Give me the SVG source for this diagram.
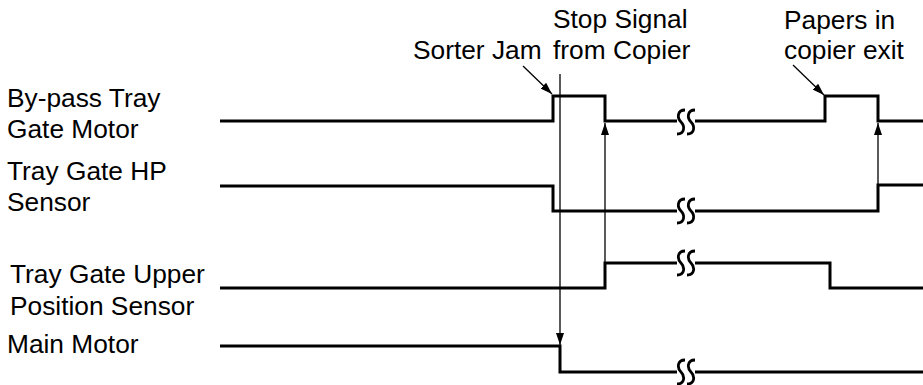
<svg xmlns="http://www.w3.org/2000/svg" width="923" height="385" viewBox="0 0 923 385">
<defs>
<style>
text{font-family:"Liberation Sans",Arial,sans-serif;font-size:26.3px;fill:#000}
.sig{fill:none;stroke:#000;stroke-width:3;stroke-linejoin:miter;stroke-linecap:butt}
.brk{fill:none;stroke:#000;stroke-width:2.8}
.thin{fill:none;stroke:#000;stroke-width:1.3}
</style>
<marker id="ah" viewBox="0 0 12 8" refX="12" refY="4" markerWidth="12" markerHeight="8" markerUnits="userSpaceOnUse" orient="auto">
<path d="M0,0 L12,4 L0,8 Z" fill="#000"/>
</marker>
<path id="s" d="M4,-12 C-4,-12 -4,-4 0,0 C4,4 4,12 -4,12"/>
</defs>
<rect width="923" height="385" fill="#fff"/>
<g id="labels">
<text x="7" y="106.5">By-pass Tray</text>
<text x="7" y="137.5">Gate Motor</text>
<text x="7" y="180">Tray Gate HP</text>
<text x="7" y="211">Sensor</text>
<text x="10" y="283">Tray Gate Upper</text>
<text x="10" y="315">Position Sensor</text>
<text x="7" y="353">Main Motor</text>
<text x="413" y="59">Sorter Jam</text>
<text x="553" y="28">Stop Signal</text>
<text x="553" y="59">from Copier</text>
<text x="784" y="29">Papers in</text>
<text x="784" y="59">copier exit</text>
</g>
<g id="bypass-motor">
<path class="sig" d="M220,121 H553 V96 H605 V121 H677"/>
<path class="sig" d="M695,121 H825 V96 H878 V121 H923"/>
<use href="#s" class="brk" x="681" y="122"/><use href="#s" class="brk" x="691" y="122"/>
</g>
<g id="hp-sensor">
<path class="sig" d="M220,186 H553 V211 H677"/>
<path class="sig" d="M695,211 H878 V185 H923"/>
<use href="#s" class="brk" x="681" y="211"/><use href="#s" class="brk" x="691" y="211"/>
</g>
<g id="upper-sensor">
<path class="sig" d="M220,288 H605 V263 H677"/>
<path class="sig" d="M695,263 H830 V288 H923"/>
<use href="#s" class="brk" x="681" y="263"/><use href="#s" class="brk" x="691" y="263"/>
</g>
<g id="main-motor">
<path class="sig" d="M220,346 H560 V372 H677"/>
<path class="sig" d="M695,372 H923"/>
<use href="#s" class="brk" x="681" y="372"/><use href="#s" class="brk" x="691" y="372"/>
</g>
<g id="connectors">
<line class="thin" x1="560" y1="74" x2="560" y2="345" marker-end="url(#ah)"/>
<line class="thin" x1="605" y1="262" x2="605" y2="123" marker-end="url(#ah)"/>
<line class="thin" x1="878" y1="184" x2="878" y2="123" marker-end="url(#ah)"/>
<line class="thin" x1="523" y1="66" x2="552" y2="94" marker-end="url(#ah)"/>
<line class="thin" x1="793" y1="65" x2="824" y2="95" marker-end="url(#ah)"/>
</g>
</svg>
